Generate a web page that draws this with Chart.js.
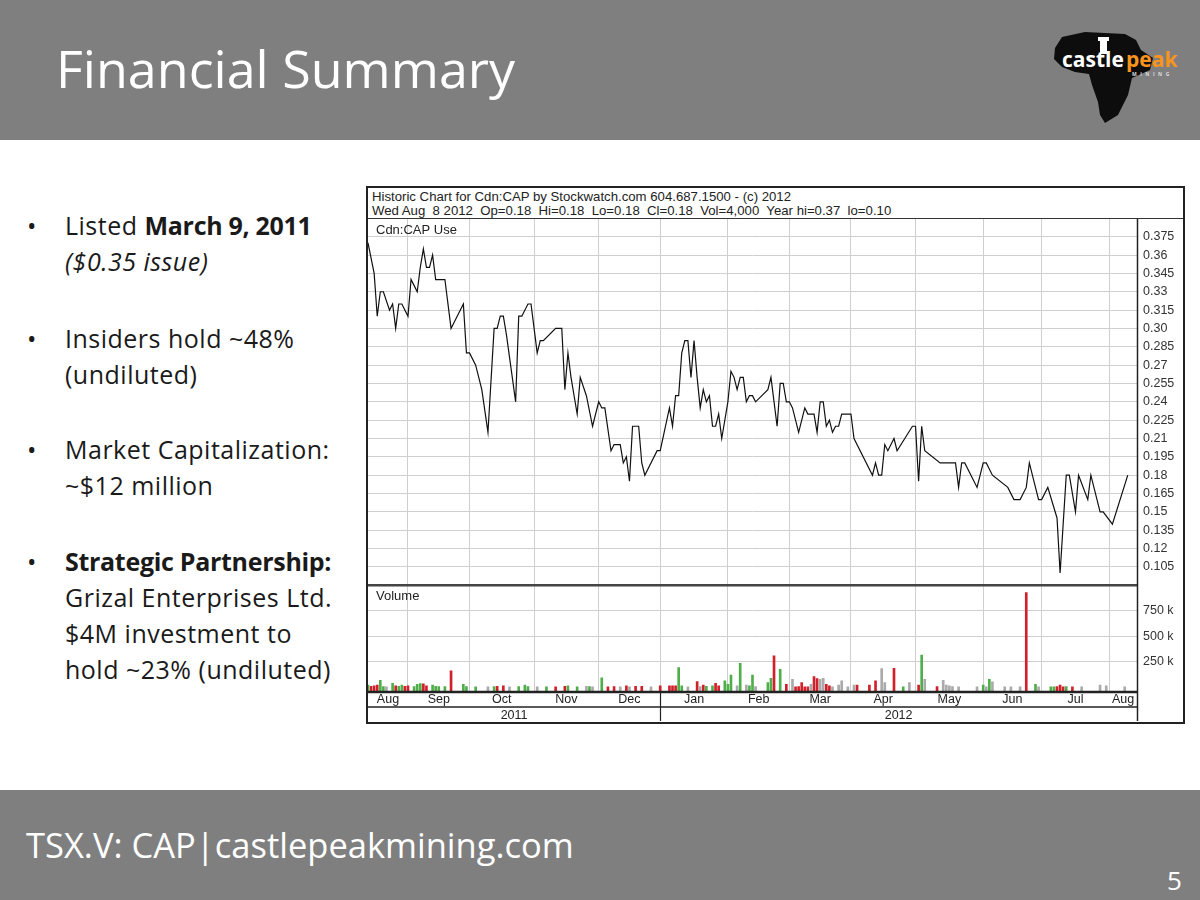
<!DOCTYPE html>
<html><head><meta charset="utf-8">
<script src="https://cdn.jsdelivr.net/npm/chart.js@4.4.1/dist/chart.umd.min.js"></script>
<style>
html,body{margin:0;padding:0}
body{width:1200px;height:900px;position:relative;background:#fff;font-family:'Open Sans',sans-serif;overflow:hidden}
#hdr{position:absolute;left:0;top:0;width:1200px;height:140px;background:#7f7f7f}
#title{position:absolute;left:56px;top:35px;color:#fff;font-size:52px;line-height:66px;white-space:nowrap}
#ftr{position:absolute;left:0;top:790px;width:1200px;height:110px;background:#7f7f7f}
#ftxt{position:absolute;left:26px;top:33px;color:#fff;font-size:34.5px;line-height:44px;white-space:nowrap}
#pnum{position:absolute;left:1167px;top:74px;color:#fff;font-size:26px;line-height:32px}
.para{position:absolute;left:65px;font-size:25px;letter-spacing:0.5px;line-height:36px;color:#1a1a1a;white-space:nowrap}
.para b{letter-spacing:-0.3px}
.para .dot{position:absolute;left:-38px;top:0}
#box{position:absolute;left:366px;top:186px;width:815px;height:534px;border:2px solid #222;background:#fff}
#chead{height:31px;border-bottom:1px solid #333;font-family:'Liberation Sans',Arial,sans-serif;font-size:13.2px;line-height:14px;color:#222;padding:2px 0 0 4px;box-sizing:border-box;white-space:pre}
#cv{display:block}
</style></head>
<body>
<div id="hdr"><div id="title">Financial Summary</div>
<svg style="position:absolute;left:1040px;top:15px" width="160" height="110" viewBox="0 0 160 110">
<path d="M15 33 L22 22 L45 17 L85 19 L96 25 L101 35 L113 43 L110 55 L92 63 L88 80 L78 100 L65 108 L60 100 L58 87 L52 70 L49 59 L35 57 L22 52 L14 44 Z" fill="#0d0d0d"/>
<rect x="60" y="24" width="7" height="15" fill="#fff"/>
<rect x="58" y="22" width="11" height="4" fill="#fff"/>
<text x="22" y="52" font-family="'Open Sans',sans-serif" font-weight="700" font-size="21" fill="#fff">castle</text>
<text x="86" y="52" font-family="'Open Sans',sans-serif" font-weight="700" font-size="21" fill="#f7941d">peak</text>
<text x="92" y="61" font-family="'Open Sans',sans-serif" font-weight="700" font-size="5" letter-spacing="3.5" fill="#ddd">MINING</text>
</svg>
</div>

<div class="para" style="top:207px"><span class="dot">•</span>Listed <b>March 9, 2011</b><br><i>($0.35 issue)</i></div>
<div class="para" style="top:320px"><span class="dot">•</span>Insiders hold ~48%<br>(undiluted)</div>
<div class="para" style="top:431px"><span class="dot">•</span>Market Capitalization:<br>~$12 million</div>
<div class="para" style="top:543px"><span class="dot">•</span><b>Strategic Partnership:</b><br>Grizal Enterprises Ltd.<br>$4M investment to<br>hold ~23% (undiluted)</div>

<div id="box">
<div id="chead">Historic Chart for Cdn:CAP by Stockwatch.com 604.687.1500 - (c) 2012
Wed Aug  8 2012  Op=0.18  Hi=0.18  Lo=0.18  Cl=0.18  Vol=4,000  Year hi=0.37  lo=0.10</div>
<canvas id="cv" width="815" height="502"></canvas>
</div>

<div id="ftr"><div id="ftxt">TSX.V: CAP|castlepeakmining.com</div><div id="pnum">5</div></div>

<script>
// ---- data (x = trading-day index since the start of the chart) ----
const priceDay = [0,2,3,4,5,7,8,9,10,11,13,14,15,16,17,18,19,20,21,22,25,27,31,32,33,35,37,39,41,42,43,44,45,48,49,50,52,53,55,56,57,61,63,64,65,66,68,69,71,73,75,76,77,79,80,82,83,84,85,86,88,89,90,94,95,98,99,100,101,102,103,104,105,106,107,108,109,110,111,112,113,114,115,117,118,119,120,121,122,123,124,125,126,130,131,133,134,135,136,137,138,140,142,143,145,146,147,148,149,150,151,152,153,154,157,158,164,165,166,167,168,169,171,172,177,178,179,180,181,186,191,192,193,194,198,200,201,203,208,210,212,214,215,218,219,221,224,225,226,227,228,230,231,234,235,238,239,242,247];
const priceClose = [0.37,0.345,0.31,0.33,0.33,0.315,0.32,0.30,0.32,0.32,0.31,0.34,0.335,0.33,0.35,0.365,0.35,0.35,0.36,0.34,0.34,0.30,0.32,0.28,0.28,0.27,0.25,0.215,0.30,0.30,0.31,0.31,0.295,0.24,0.31,0.31,0.32,0.32,0.28,0.29,0.29,0.30,0.30,0.25,0.28,0.26,0.23,0.26,0.245,0.22,0.24,0.235,0.235,0.20,0.205,0.205,0.19,0.195,0.175,0.22,0.22,0.19,0.18,0.20,0.20,0.235,0.22,0.245,0.245,0.28,0.29,0.29,0.26,0.29,0.26,0.235,0.25,0.24,0.245,0.22,0.22,0.23,0.21,0.24,0.265,0.26,0.25,0.26,0.26,0.24,0.245,0.245,0.24,0.25,0.26,0.22,0.255,0.255,0.24,0.24,0.235,0.215,0.235,0.23,0.23,0.215,0.24,0.24,0.22,0.225,0.215,0.22,0.22,0.23,0.23,0.21,0.18,0.19,0.18,0.18,0.205,0.20,0.21,0.20,0.22,0.22,0.175,0.22,0.20,0.19,0.19,0.17,0.19,0.19,0.17,0.19,0.19,0.18,0.17,0.16,0.16,0.17,0.19,0.16,0.16,0.17,0.145,0.10,0.14,0.18,0.18,0.15,0.18,0.16,0.18,0.15,0.15,0.14,0.18];

const volDay = [0,1,2,3,4,5,6,8,9,10,11,12,13,15,16,17,18,19,21,22,23,25,27,31,32,35,39,41,42,44,46,49,51,52,55,58,61,64,65,68,71,72,73,76,78,80,82,84,85,87,89,92,95,98,99,100,101,102,104,107,108,109,110,112,113,114,116,117,118,120,121,123,124,125,126,130,131,132,134,136,138,139,140,141,142,143,144,145,146,147,148,149,150,151,153,154,156,158,159,163,165,167,168,171,174,176,179,180,181,185,187,188,189,190,192,198,200,201,202,203,207,209,212,214,217,218,222,223,224,225,226,227,229,232,238,240,246];
const volShares = [20000,10000,13000,20000,68000,7000,3000,39000,13000,10000,20000,10000,13000,7000,29000,36000,33000,13000,20000,10000,7000,7000,160000,29000,7000,5000,5000,7000,10000,13000,5000,7000,20000,7000,3000,3000,5000,10000,13000,5000,10000,7000,5000,91000,5000,7000,5000,13000,5000,10000,10000,3000,13000,13000,13000,13000,193000,13000,5000,56000,7000,20000,10000,13000,39000,13000,62000,29000,118000,13000,235000,20000,13000,118000,7000,46000,88000,307000,176000,29000,78000,5000,7000,46000,5000,3000,29000,105000,85000,78000,88000,29000,13000,5000,20000,62000,5000,20000,20000,20000,62000,183000,46000,186000,3000,46000,20000,314000,78000,7000,68000,20000,13000,7000,3000,3000,20000,3000,78000,52000,3000,3000,5000,928000,29000,5000,5000,3000,7000,20000,5000,7000,5000,5000,20000,13000,3000];
const volMove = ['up','down','down','down','up','up','unch','up','down','up','up','down','down','up','up','up','down','down','up','up','up','up','down','up','up','up','unch','up','down','down','unch','up','up','up','unch','up','down','down','up','up','unch','up','unch','up','down','down','unch','down','unch','down','down','unch','down','down','down','down','up','up','unch','down','unch','down','up','up','down','down','up','up','up','unch','up','unch','up','up','unch','up','up','down','up','down','unch','down','down','down','down','down','unch','down','down','unch','unch','down','down','unch','unch','unch','unch','unch','down','down','down','unch','unch','down','up','unch','down','up','unch','down','unch','unch','unch','unch','unch','unch','up','unch','up','unch','unch','unch','unch','down','up','unch','up','up','down','down','down','up','down','unch','unch','unch','unch'];

const monthStart = [13,33,54,75,95,117,137,157,178,200,219,241];
const monthMid = [6.5,23,43.5,64.5,85,106,127,147,167.5,189,209.5,230,245.5];
const monthLabels = ['Aug','Sep','Oct','Nov','Dec','Jan','Feb','Mar','Apr','May','Jun','Jul','Aug'];
const yearMid = [47.5,172.5];
const yearLabels = ['2011','2012'];
const yearSplit = 95;
const priceTicks = [0.375,0.36,0.345,0.33,0.315,0.30,0.285,0.27,0.255,0.24,0.225,0.21,0.195,0.18,0.165,0.15,0.135,0.12,0.105];
const priceTickLabels = ['0.375','0.36','0.345','0.33','0.315','0.30','0.285','0.27','0.255','0.24','0.225','0.21','0.195','0.18','0.165','0.15','0.135','0.12','0.105'];
const volTicks = [750000,500000,250000];
const volTickLabels = ['750 k','500 k','250 k'];

// ---- chart ----
const moveColor = {up:'#4fae4a', down:'#d0202a', unch:'#aaaaaa'};
const VOL_MIN = -37000;
const FONT = {family:"'Liberation Sans', Arial, sans-serif", size:12.5};

const framePlugin = {
  id:'frame',
  afterDraw(chart){
    const {ctx, chartArea:a, scales} = chart;
    const yv = scales.yv, xy = scales.xy, x = scales.x;
    const ln = (x1,y1,x2,y2,w,c)=>{ctx.beginPath();ctx.lineWidth=w;ctx.strokeStyle=c;ctx.moveTo(x1,y1);ctx.lineTo(x2,y2);ctx.stroke();};
    ctx.save();
    ln(a.left, yv.top, a.right, yv.top, 2.5, '#444');
    ln(a.left, a.bottom+1, a.right, a.bottom+1, 2.5, '#222');
    ln(a.left, xy.top, a.right, xy.top, 1.5, '#222');
    ln(a.right+0.5, 0, a.right+0.5, chart.height, 1.5, '#222');
    const sx = Math.round(x.getPixelForValue(yearSplit))+0.5;
    ln(sx, a.bottom, sx, chart.height, 1.2, '#222');
    ctx.fillStyle='#222';
    ctx.font = "13px 'Liberation Sans', Arial, sans-serif";
    ctx.textBaseline='middle';
    ctx.fillText('Cdn:CAP Use', a.left+8, a.top+11);
    ctx.fillText('Volume', a.left+8, yv.top+11);
    ctx.restore();
  }
};

const noPad = s=>{s.paddingTop=0;s.paddingBottom=0;s.paddingLeft=0;s.paddingRight=0;};
const xBase = {type:'linear', min:0, max:250, offset:false, position:'bottom'};

new Chart(document.getElementById('cv'), {
  type:'line',
  data:{datasets:[
    {type:'line', data:priceDay.map((d,i)=>({x:d,y:priceClose[i]})), xAxisID:'x', yAxisID:'y',
     borderColor:'#111', borderWidth:1.2, pointRadius:0, tension:0, fill:false},
    {type:'bar', data:volDay.map((d,i)=>({x:d,y:volShares[i]})), xAxisID:'x', yAxisID:'yv',
     backgroundColor:volMove.map(m=>moveColor[m]), barThickness:2, base:VOL_MIN, borderWidth:0}
  ]},
  options:{
    responsive:false, animation:false, devicePixelRatio:1,
    layout:{padding:0},
    plugins:{legend:{display:false}, tooltip:{enabled:false}},
    scales:{
      x:Object.assign({}, xBase, {weight:0,
        grid:{color:'#cfcfcf', drawTicks:false, offset:false, lineWidth:1},
        border:{display:false}, ticks:{display:false},
        afterBuildTicks:s=>{s.ticks = monthStart.map(v=>({value:v}));},
        afterFit:s=>{s.height=0;noPad(s);}}),
      xm:Object.assign({}, xBase, {weight:1,
        grid:{display:false, drawTicks:false, offset:false}, border:{display:false},
        ticks:{autoSkip:false, maxRotation:0, minRotation:0, padding:1, color:'#222', font:FONT,
               callback:(v,i)=>monthLabels[i]},
        afterBuildTicks:s=>{s.ticks = monthMid.map(v=>({value:v}));},
        afterFit:s=>{s.height=16;noPad(s);}}),
      xy:Object.assign({}, xBase, {weight:2,
        grid:{display:false, drawTicks:false, offset:false}, border:{display:false},
        ticks:{autoSkip:false, maxRotation:0, minRotation:0, padding:1, color:'#222', font:FONT,
               callback:(v,i)=>yearLabels[i]},
        afterBuildTicks:s=>{s.ticks = yearMid.map(v=>({value:v}));},
        afterFit:s=>{s.height=14;noPad(s);}}),
      y:{type:'linear', position:'right', stack:'panels', stackWeight:367, min:0.09, max:0.3895,
        grid:{color:'#cfcfcf', drawTicks:false, lineWidth:1}, border:{display:false},
        ticks:{autoSkip:false, padding:6, color:'#333', font:FONT, callback:(v,i)=>priceTickLabels[i]},
        afterBuildTicks:s=>{s.ticks = priceTicks.map(v=>({value:v}));},
        afterFit:s=>{s.width=46;noPad(s);}},
      yv:{type:'linear', position:'right', stack:'panels', stackWeight:106, min:VOL_MIN, max:1000000,
        grid:{color:'#cfcfcf', drawTicks:false, lineWidth:1}, border:{display:false},
        ticks:{autoSkip:false, padding:6, color:'#333', font:FONT, callback:(v,i)=>volTickLabels[i]},
        afterBuildTicks:s=>{s.ticks = volTicks.map(v=>({value:v}));},
        afterFit:s=>{s.width=46;noPad(s);}}
    }
  },
  plugins:[framePlugin]
});
</script>
</body></html>
